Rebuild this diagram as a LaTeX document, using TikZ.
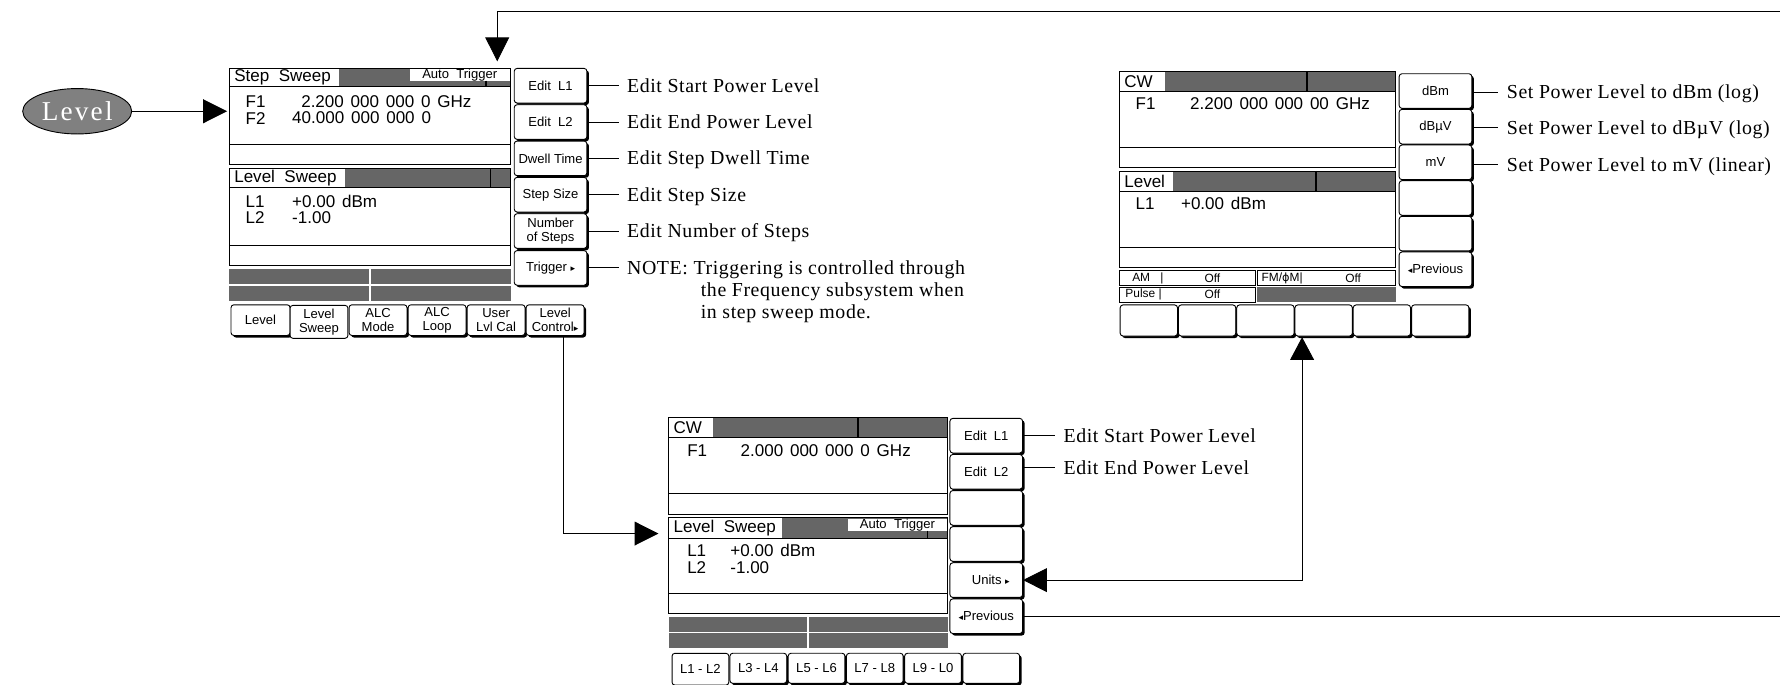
\documentclass[tikz,border=0pt]{standalone}
\usepackage{fontspec}
\setmainfont{Liberation Serif}
\newfontfamily\scrf{Liberation Sans}
\newfontfamily\symf{DejaVu Sans}
\newfontfamily\callf{Liberation Serif}[LetterSpace=3]
\newfontfamily\ovalf{Liberation Serif}[LetterSpace=8]
\usetikzlibrary{arrows.meta,shapes.geometric,shadows}
\newcommand\myfs[1]{\fontsize{#1}{#1}\selectfont}
\newcommand\rtri{{\symf\myfs{8}▸}}
\newcommand\ltri{{\symf\myfs{8}◂}}
\begin{document}
\begin{tikzpicture}[x=1pt,y=-1pt,line width=0.8pt,
  grayf/.style={fill=black!60},
  stxt/.style={font=\scrf\myfs{15}, inner sep=0pt, anchor=west},
  smtxt/.style={font=\scrf\myfs{10.5}, inner sep=0pt},
  skey/.style={draw, fill=white, rounded corners=2.5pt, inner sep=0pt, align=center,
    font=\scrf\myfs{11.5}, minimum width=64pt, minimum height=30.5pt,
    general shadow={fill=black, shadow xshift=1.8pt, shadow yshift=-1.8pt}},
  tabk/.style={skey, font=\scrf\fontsize{11.5}{12}\selectfont, minimum height=27pt},
  tabsel/.style={draw, fill=white, rounded corners=2.5pt, inner sep=0pt, align=center,
    font=\scrf\fontsize{11.5}{12}\selectfont, minimum height=29pt},
  ctxt/.style={font=\callf\myfs{17.5}, inner xsep=7pt, inner ysep=0pt, anchor=west,
    text height=11.6pt, text depth=0pt},
  arr/.style={-{Triangle[length=21pt,width=21pt]}},
  arrs/.style={{Triangle[length=20pt,width=21pt]}-{Triangle[length=21pt,width=21pt]}}]
\useasboundingbox (0,0) rectangle (1568,603);

% ---------------- Level oval ----------------
\node[ellipse, draw, fill=black!50, minimum width=96pt, minimum height=40pt, inner sep=0pt,
  text=white, font=\ovalf\myfs{24}] (lvl) at (68,98) {Level};
\coordinate (s1in) at (200,98);
\draw[arr] (lvl.east) -- (s1in);

% ---------------- Screen 1 ----------------
\fill[grayf] (299,60) rectangle (450,76.5);
\fill[white] (361,61) rectangle (449,71.5);
\node[smtxt, font=\scrf\myfs{11.5}] (s1at) at (405,66) {Auto\ \ Trigger};
\draw[line width=1.3pt] (428,71) -- (428,76.5);
\draw (202,60) rectangle (450,76.5);
\draw (202,76.5) rectangle (450,127);
\draw (202,127) rectangle (450,145);
\fill[grayf] (304,148) rectangle (450,165.5);
\draw (202,148) rectangle (450,165.5);
\draw[line width=1.6pt] (432,148) -- (432,165.5);
\draw (202,165.5) rectangle (450,216);
\draw (202,216) rectangle (450,234);
\fill[grayf] (202,237) rectangle (325,250);
\fill[grayf] (327,237) rectangle (450,250);
\fill[grayf] (202,251.5) rectangle (325,265);
\fill[grayf] (327,251.5) rectangle (450,265);
\node[stxt] (s1h1) at (206,68.5) {Step\ \ Sweep};
\node[stxt] (s1f1) at (216,89.5) {F1};
\node[stxt] (s1v1) at (265,89.5) {2.200\hspace{6pt}000\hspace{6pt}000\hspace{6pt}0\hspace{6pt}GHz};
\node[stxt] (s1f2) at (216,104) {F2};
\node[stxt] (s1v2) at (257,104) {40.000\hspace{6pt}000\hspace{6pt}000\hspace{6pt}0};
\node[stxt] (s1h2) at (206,157) {Level\ \ Sweep};
\node[stxt] (s1l1) at (216,177.5) {L1};
\node[stxt] (s1w1) at (257,177.5) {+0.00\hspace{6pt}dBm};
\node[stxt] (s1l2) at (216,192) {L2};
\node[stxt] (s1w2) at (257,192) {-1.00};

\node[skey] (s1k1) at (485,75.5)  {Edit\ \ L1};
\node[skey] (s1k2) at (485,107.5) {Edit\ \ L2};
\node[skey] (s1k3) at (485,139.5) {Dwell Time};
\node[skey] (s1k4) at (485,171.5) {Step Size};
\node[skey, font=\scrf\fontsize{11.5}{12}\selectfont] (s1k5) at (485,203.5) {Number\\of Steps};
\node[skey] (s1k6) at (485,236) {Trigger \rtri};

\node[tabk, minimum width=52pt] (s1t1) at (229.5,282) {Level};
\node[tabsel, minimum width=51pt] (s1t2) at (281,283.5) {Level\\Sweep};
\node[tabk, minimum width=51pt] (s1t3) at (333,282) {ALC\\Mode};
\node[tabk, minimum width=51pt] (s1t4) at (385,282) {ALC\\Loop};
\node[tabk, minimum width=51pt] (s1t5) at (437,282) {User\\Lvl Cal};
\node[tabk, minimum width=51pt] (s1t6) at (489,282) {Level\\Control\rtri};

\node[ctxt] (c11) at (545,75.5)  {Edit Start Power Level};
\node[ctxt] (c12) at (545,107.5) {Edit End Power Level};
\node[ctxt] (c13) at (545,139.5) {Edit Step Dwell Time};
\node[ctxt] (c14) at (545,171.5) {Edit Step Size};
\node[ctxt] (c15) at (545,203.5) {Edit Number of Steps};
\node[ctxt] (c16) at (545,236) {NOTE: Triggering is controlled through};
\node[ctxt] (c17) at (610,255.5) {the Frequency subsystem when};
\node[ctxt] (c18) at (610,275) {in step sweep mode.};
\foreach \i in {1,...,6}{\draw (s1k\i.east) -- (c1\i.west);}

% ---------------- Screen 2 ----------------
\fill[grayf] (628.5,368) rectangle (835,385.5);
\draw[line width=1.6pt] (756,368) -- (756,385.5);
\draw (589,368) rectangle (835,385.5);
\draw (589,385.5) rectangle (835,435);
\draw (589,435) rectangle (835,453);
\fill[grayf] (689,456) rectangle (835,474);
\fill[white] (747,457) rectangle (834,468);
\node[smtxt, font=\scrf\myfs{11.5}] (s2at) at (790.5,462.5) {Auto\ \ Trigger};
\draw[line width=1.3pt] (817,467.5) -- (817,474);
\draw (589,456) rectangle (835,474);
\draw (589,474) rectangle (835,523);
\draw (589,523) rectangle (835,540.5);
\fill[grayf] (589,543.5) rectangle (710.6,556.7);
\fill[grayf] (712.6,543.5) rectangle (835,556.7);
\fill[grayf] (589,558) rectangle (710.6,571);
\fill[grayf] (712.6,558) rectangle (835,571);
\node[stxt] (s2h1) at (593,377) {CW};
\node[stxt] (s2f1) at (605,397) {F1};
\node[stxt] (s2v1) at (652,397) {2.000\hspace{6pt}000\hspace{6pt}000\hspace{6pt}0\hspace{6pt}GHz};
\node[stxt] (s2h2) at (593,465) {Level\ \ Sweep};
\node[stxt] (s2l1) at (605,485) {L1};
\node[stxt] (s2w1) at (643,485) {+0.00\hspace{6pt}dBm};
\node[stxt] (s2l2) at (605,499.6) {L2};
\node[stxt] (s2w2) at (643,499.6) {-1.00};

\node[skey] (s2k1) at (868.8,383.8) {Edit\ \ L1};
\node[skey] (s2k2) at (868.8,415.6) {Edit\ \ L2};
\node[skey] (s2k3) at (868.8,447.4) {};
\node[skey] (s2k4) at (868.8,479.2) {};
\node[skey] (s2k5) at (868.8,511.0) {\hspace{8pt}Units \rtri};
\node[skey] (s2k6) at (868.8,542.8) {\ltri Previous};

\node[tabsel, minimum width=50pt, minimum height=28pt] (s2t1) at (617,589.5) {L1 - L2};
\node[tabk, minimum width=50pt, minimum height=26.5pt] (s2t2) at (668,588.7) {L3 - L4};
\node[tabk, minimum width=50pt, minimum height=26.5pt] (s2t3) at (719.3,588.7) {L5 - L6};
\node[tabk, minimum width=50pt, minimum height=26.5pt] (s2t4) at (770.6,588.7) {L7 - L8};
\node[tabk, minimum width=50pt, minimum height=26.5pt] (s2t5) at (821.9,588.7) {L9 - L0};
\node[tabk, minimum width=50pt, minimum height=26.5pt] (s2t6) at (873.2,588.7) {};

\node[ctxt] (c21) at (929.5,384) {Edit Start Power Level};
\node[ctxt] (c22) at (929.5,412) {Edit End Power Level};
\draw (s2k1.east |- c21.west) -- (c21.west);
\draw (s2k2.east |- c22.west) -- (c22.west);

% ---------------- Screen 3 ----------------
\fill[grayf] (1026,63) rectangle (1229.5,80.7);
\draw[line width=1.6pt] (1151,63) -- (1151,80.7);
\draw (986,63) rectangle (1229.5,80.7);
\draw (986,80.7) rectangle (1229.5,130);
\draw (986,130) rectangle (1229.5,147.7);
\fill[grayf] (1033.7,150.6) rectangle (1229.5,168.3);
\draw[line width=1.6pt] (1159,150.6) -- (1159,168.3);
\draw (986,150.6) rectangle (1229.5,168.3);
\draw (986,168.3) rectangle (1229.5,217.6);
\draw (986,217.6) rectangle (1229.5,235.3);
\draw (986,238.2) rectangle (1106,251.5);
\draw (1107.7,238.2) rectangle (1229.5,251.5);
\draw (986,253) rectangle (1106,266);
\fill[grayf] (1107.7,253) rectangle (1229.5,266);
\node[stxt] (s3h1) at (990,72) {CW};
\node[stxt] (s3f1) at (1000,91.6) {F1};
\node[stxt] (s3v1) at (1048,91.6) {2.200\hspace{6pt}000\hspace{6pt}000\hspace{6pt}00\hspace{6pt}GHz};
\node[stxt] (s3h2) at (990,159.5) {Level};
\node[stxt] (s3l1) at (1000,179.5) {L1};
\node[stxt] (s3w1) at (1040,179.5) {+0.00\hspace{6pt}dBm};
\node[smtxt, anchor=west] (s3am) at (997,245) {AM\hspace{9pt}|};
\node[smtxt] (s3o1) at (1068,245) {Off};
\node[smtxt, anchor=west] (s3fm) at (1111,245) {FM/{\symf\myfs{10}ϕ}M|};
\node[smtxt] (s3o2) at (1192,245) {Off};
\node[smtxt, anchor=west] (s3pu) at (991,259.5) {Pulse |};
\node[smtxt] (s3o3) at (1068,259.5) {Off};

\node[skey] (s3k1) at (1264.5,80.2)  {dBm};
\node[skey] (s3k2) at (1264.5,111.6) {dBµV};
\node[skey] (s3k3) at (1264.5,143.0) {mV};
\node[skey] (s3k4) at (1264.5,174.4) {};
\node[skey] (s3k5) at (1264.5,205.8) {};
\node[skey] (s3k6) at (1264.5,237.2) {\ltri Previous};

\foreach \i/\x in {1/1012,2/1063.3,3/1114.7,4/1166,5/1217.3,6/1268.7}{
  \node[tabk, minimum width=50.5pt, minimum height=27.4pt] (s3t\i) at (\x,282.3) {};}

\node[ctxt] (c31) at (1320,81)    {Set Power Level to dBm (log)};
\node[ctxt] (c32) at (1320,112.5) {Set Power Level to dBµV (log)};
\node[ctxt] (c33) at (1320,145)   {Set Power Level to mV (linear)};
\draw (s3k1.east |- c31.west) -- (c31.west);
\draw (s3k2.east |- c32.west) -- (c32.west);
\draw (s3k3.east |- c33.west) -- (c33.west);

% ---------------- connectors ----------------
\coordinate (topR) at (1568,10.3);
\coordinate (s1top) at (438,54);
\draw[arr] (topR) -| (s1top);
\coordinate (s2in) at (580,470);
\draw[arr] ([xshift=7pt]s1t6.south) |- (s2in);
\coordinate (s3tip) at (1147,297);
\draw[arrs] (s3tip) |- (s2k5.east);
\coordinate (prevR) at (1568,542.8);
\draw (s2k6.east) -- (prevR);
\end{tikzpicture}
\end{document}
